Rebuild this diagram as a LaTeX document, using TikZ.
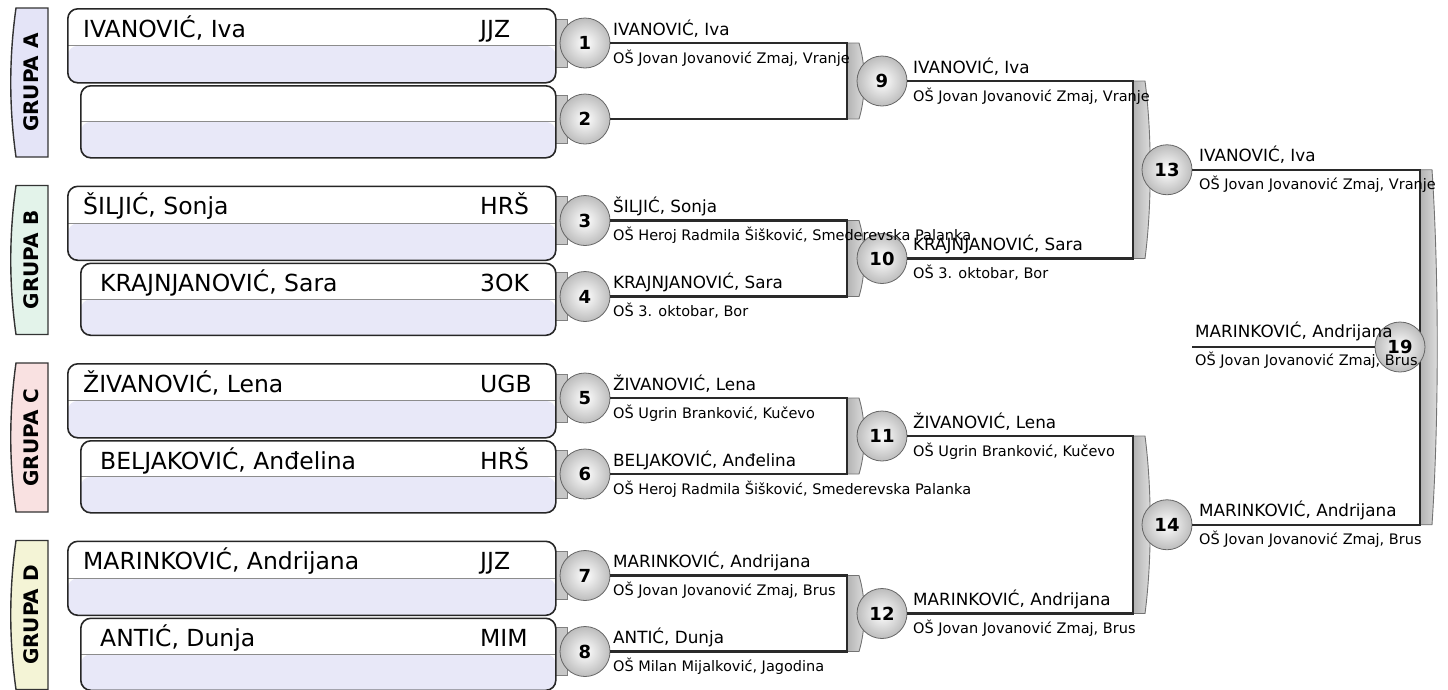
\documentclass[tikz,border=0pt]{standalone}
\usepackage{fontspec}
\setmainfont{DejaVu Sans}
\definecolor{lav}{HTML}{E8E8F8}
\definecolor{grpA}{HTML}{E4E4F7}
\definecolor{grpB}{HTML}{E3F3EA}
\definecolor{grpC}{HTML}{F9E1E1}
\definecolor{grpD}{HTML}{F4F4D6}
\definecolor{lin}{HTML}{2A2A2A}
\tikzset{
  conn/.style={draw=lin, line width=2.4pt},
  ball/.style={circle, draw=black!60, line width=0.8pt, inner color=white, outer color=black!26,
    minimum size=50pt, inner sep=0pt, font=\bfseries\fontsize{18}{20}\selectfont},
  tabr/.style={rectangle, draw=black!50, line width=0.7pt, fill=black!22, minimum width=13pt,
    minimum height=48pt, inner sep=0pt},
  pbox/.style={rectangle, draw=black!85, line width=1.6pt, rounded corners=10pt, fill=white,
    anchor=north west, inner sep=0pt,
    path picture={\fill[lav] (path picture bounding box.west) rectangle (path picture bounding box.south east);
      \draw[black!45, line width=1pt] (path picture bounding box.west) -- (path picture bounding box.east);}},
  pname/.style={anchor=base west, inner sep=0pt, font=\fontsize{23.5}{28}\selectfont},
  lname/.style={anchor=base west, inner sep=0pt, font=\fontsize{16.8}{20}\selectfont},
  lschool/.style={anchor=base west, inner sep=0pt, font=\fontsize{14.5}{17}\selectfont},
  grplabel/.style={rotate=90, inner sep=0pt, font=\bfseries\fontsize{20}{24}\selectfont},
  bandst/.style={draw=black!55, line width=0.9pt, left color=black!30, right color=black!12}
}
% group: #1 top, #2 letter, #3 colour, #4 name1, #5 code1, #6 name2, #7 code2, #8 idx1, #9 idx2
\newcommand\grp[9]{%
  \path[draw=black!80, line width=1.4pt, fill=#3] (48,#1) -- (16,#1)
     .. controls (9,{#1+50}) and (9,{#1+99}) .. (16,{#1+149}) -- (48,{#1+149}) -- cycle;
  \node[grplabel] (g#2) at (31,{#1+74.5}) {GRUPA #2};
  \node[tabr] (t#8) at (561,{#1+35}) {};
  \node[tabr] (t#9) at (561,{#1+111}) {};
  \node[pbox, minimum width=488pt, minimum height=74pt] (p#8) at (67,#1) {};
  \node[pbox, minimum width=475pt, minimum height=72pt] (p#9) at (80,{#1+77}) {};
  \node[pname] (n#8) at (83,{#1+29}) {#4};
  \node[pname] (k#8) at (480,{#1+29}) {#5};
  \node[pname] (n#9) at (100,{#1+106}) {#6};
  \node[pname] (k#9) at (480,{#1+106}) {#7};
}
\newcommand\bandd[3]{%
  \path[bandst] (#1,#2) -- ({#1+12},#2) .. controls ({#1+19},{#2+0.3*(#3-#2)}) and ({#1+19},{#3-0.3*(#3-#2)}) .. ({#1+12},#3) -- (#1,#3) -- cycle;}
\newcommand\lab[5]{%
  \node[lname] (ln#1) at (#2,{#3-8}) {#4};
  \node[lschool] (ls#1) at (#2,{#3+20}) {#5};}
\begin{document}
\begin{tikzpicture}[x=1pt,y=-1pt]
\useasboundingbox (0,0) rectangle (1448,689);
% groups
\grp{8}{A}{grpA}{IVANOVIĆ, Iva}{JJZ}{}{}{1}{2}
\grp{185.5}{B}{grpB}{ŠILJIĆ, Sonja}{HRŠ}{KRAJNJANOVIĆ, Sara}{3OK}{3}{4}
\grp{363}{C}{grpC}{ŽIVANOVIĆ, Lena}{UGB}{BELJAKOVIĆ, Anđelina}{HRŠ}{5}{6}
\grp{540.5}{D}{grpD}{MARINKOVIĆ, Andrijana}{JJZ}{ANTIĆ, Dunja}{MIM}{7}{8}
% bands
\bandd{847}{43}{119}
\bandd{847}{220.5}{296.5}
\bandd{847}{398}{474}
\bandd{847}{575.5}{651.5}
\bandd{1133}{81}{258.5}
\bandd{1133}{436}{613.5}
\bandd{1420}{169.75}{524.75}
% circles
\node[ball] (c1) at (585,43) {1};
\node[ball] (c2) at (585,119) {2};
\node[ball] (c3) at (585,220.5) {3};
\node[ball] (c4) at (585,296.5) {4};
\node[ball] (c5) at (585,398) {5};
\node[ball] (c6) at (585,474) {6};
\node[ball] (c7) at (585,575.5) {7};
\node[ball] (c8) at (585,651.5) {8};
\node[ball] (c9) at (882,81) {9};
\node[ball] (c10) at (882,258.5) {10};
\node[ball] (c11) at (882,436) {11};
\node[ball] (c12) at (882,613.5) {12};
\node[ball] (c13) at (1167,169.75) {13};
\node[ball] (c14) at (1167,524.75) {14};
% bracket corners
\coordinate (q1) at (847,43);   \coordinate (q2) at (847,119);
\coordinate (q3) at (847,220.5); \coordinate (q4) at (847,296.5);
\coordinate (q5) at (847,398);  \coordinate (q6) at (847,474);
\coordinate (q7) at (847,575.5); \coordinate (q8) at (847,651.5);
\coordinate (q9) at (1133,81);  \coordinate (q10) at (1133,258.5);
\coordinate (q11) at (1133,436); \coordinate (q12) at (1133,613.5);
\coordinate (q13) at (1420,169.75); \coordinate (q14) at (1420,524.75);
\coordinate (w19) at (1192,347);
\draw[conn] (c1.east) -- (q1) -- (q2) -- (c2.east);
\draw[conn] (c3.east) -- (q3) -- (q4) -- (c4.east);
\draw[conn] (c5.east) -- (q5) -- (q6) -- (c6.east);
\draw[conn] (c7.east) -- (q7) -- (q8) -- (c8.east);
\draw[conn] (c9.east) -- (q9) -- (q10) -- (c10.east);
\draw[conn] (c11.east) -- (q11) -- (q12) -- (c12.east);
\draw[conn] (c13.east) -- (q13) -- (q14) -- (c14.east);
\node[ball] (c19) at (1400,347) {19};
\draw[conn] (c19.west) -- (w19);
% labels
\lab{1}{613}{43}{IVANOVIĆ, Iva}{OŠ Jovan Jovanović Zmaj, Vranje}
\lab{3}{613}{220.5}{ŠILJIĆ, Sonja}{OŠ Heroj Radmila Šišković, Smederevska Palanka}
\lab{4}{613}{296.5}{KRAJNJANOVIĆ, Sara}{OŠ 3. oktobar, Bor}
\lab{5}{613}{398}{ŽIVANOVIĆ, Lena}{OŠ Ugrin Branković, Kučevo}
\lab{6}{613}{474}{BELJAKOVIĆ, Anđelina}{OŠ Heroj Radmila Šišković, Smederevska Palanka}
\lab{7}{613}{575.5}{MARINKOVIĆ, Andrijana}{OŠ Jovan Jovanović Zmaj, Brus}
\lab{8}{613}{651.5}{ANTIĆ, Dunja}{OŠ Milan Mijalković, Jagodina}
\lab{9}{913}{81}{IVANOVIĆ, Iva}{OŠ Jovan Jovanović Zmaj, Vranje}
\lab{10}{913}{258.5}{KRAJNJANOVIĆ, Sara}{OŠ 3. oktobar, Bor}
\lab{11}{913}{436}{ŽIVANOVIĆ, Lena}{OŠ Ugrin Branković, Kučevo}
\lab{12}{913}{613.5}{MARINKOVIĆ, Andrijana}{OŠ Jovan Jovanović Zmaj, Brus}
\lab{13}{1199}{169.75}{IVANOVIĆ, Iva}{OŠ Jovan Jovanović Zmaj, Vranje}
\lab{14}{1199}{524.75}{MARINKOVIĆ, Andrijana}{OŠ Jovan Jovanović Zmaj, Brus}
\lab{19}{1195}{345}{MARINKOVIĆ, Andrijana}{OŠ Jovan Jovanović Zmaj, Brus}
\end{tikzpicture}
\end{document}
